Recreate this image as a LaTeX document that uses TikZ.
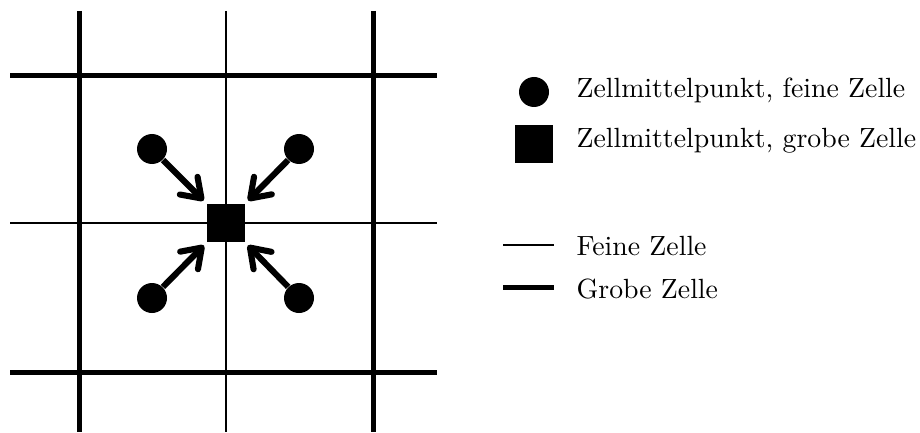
\documentclass[tikz,border=0pt]{standalone}
\usetikzlibrary{arrows.meta}
\begin{document}
\begin{tikzpicture}[x=0.36pt,y=0.36pt,
  coarse/.style={line width=1.8pt},
  fine/.style={line width=0.85pt},
  fcenter/.style={circle,fill=black,inner sep=0pt,minimum size=10.8pt},
  ccenter/.style={rectangle,fill=black,inner sep=0pt,minimum size=13.6pt},
  flow/.style={line width=2.2pt,-{Straight Barb[round,length=6.5pt,width=9pt]},shorten >=1.5pt},
  legtext/.style={anchor=base west,inner sep=0pt}
]
\useasboundingbox (0,0) rectangle (920,432);

% fine grid
\draw[fine] (226,421) -- (226,0);
\draw[fine] (10,209) -- (437,209);
% coarse grid
\draw[coarse] (79,421) -- (79,0);
\draw[coarse] (373,421) -- (373,0);
\draw[coarse] (10,356) -- (437,356);
\draw[coarse] (10,60) -- (437,60);

% cell centres
\node[ccenter] (sq) at (226,209) {};
\node[fcenter] (tl) at (152,283) {};
\node[fcenter] (tr) at (299,283) {};
\node[fcenter] (bl) at (152,134) {};
\node[fcenter] (br) at (299,134) {};

\draw[flow] (tl) -- (sq);
\draw[flow] (tr) -- (sq);
\draw[flow] (bl) -- (sq);
\draw[flow] (br) -- (sq);

% legend
\node[fcenter] (lc) at (534,340) {};
\node[ccenter] (ls) at (534,288) {};
\node[legtext] (t1) at (576,334) {Zellmittelpunkt, feine Zelle};
\node[legtext] (t2) at (576,285) {Zellmittelpunkt, grobe Zelle};
\coordinate (fa) at (503,187);
\coordinate (fb) at (554,187);
\coordinate (ca) at (503,145);
\coordinate (cb) at (554,145);
\draw[fine] (fa) -- (fb);
\draw[coarse] (ca) -- (cb);
\node[legtext] (t3) at (576,177) {Feine Zelle};
\node[legtext] (t4) at (576,134) {Grobe Zelle};
\end{tikzpicture}
\end{document}
